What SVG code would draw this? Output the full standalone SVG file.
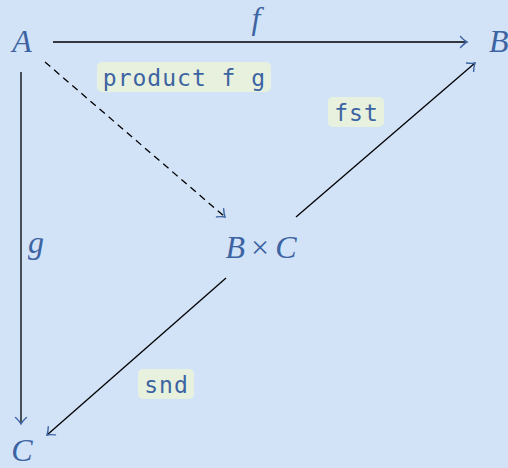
<svg xmlns="http://www.w3.org/2000/svg" width="508" height="468" viewBox="0 0 508 468">
<style>
.math{font-family:"Liberation Serif","DejaVu Serif",serif;font-style:italic;font-size:32px;fill:#3d64a2}
.up{font-style:normal}
.lbl{fill:#e7f1de}
.code{font-family:"DejaVu Sans Mono","Liberation Mono",monospace;font-size:23px;letter-spacing:1px;fill:#3d64a2;text-anchor:middle}
.edge{stroke:#000;stroke-width:1.3;fill:none}
</style>
<defs>
<marker id="arr" markerUnits="userSpaceOnUse" markerWidth="16" markerHeight="16" viewBox="-10 -8 12 16" refX="0" refY="0" orient="auto">
<path d="M-6.5,-5.5 Q-2.5,-1.2 0,0 Q-2.5,1.2 -6.5,5.5" fill="none" stroke="#3d64a2" stroke-width="1.4" stroke-linecap="round"/>
</marker>
</defs>
<rect width="508" height="468" fill="#d2e3f8"/>
<g id="connectors">
<line class="edge" x1="53" y1="42" x2="467" y2="42" marker-end="url(#arr)"/>
<line class="edge" x1="21" y1="72" x2="21" y2="424" marker-end="url(#arr)"/>
<line class="edge" x1="45" y1="62" x2="225" y2="217" stroke-dasharray="7,5" marker-end="url(#arr)"/>
<line class="edge" x1="296" y1="217" x2="475" y2="63" marker-end="url(#arr)"/>
<line class="edge" x1="226" y1="278" x2="47" y2="435" marker-end="url(#arr)"/>
</g>
<g id="node-A"><text class="math" x="22" y="52" text-anchor="middle">A</text></g>
<g id="node-B"><text class="math" x="489" y="52">B</text></g>
<g id="node-C"><text class="math" x="22" y="461" text-anchor="middle">C</text></g>
<g id="node-BxC"><text class="math" x="261" y="258" text-anchor="middle">B<tspan class="up" dx="6">×</tspan><tspan dx="6">C</tspan></text></g>
<g id="label-f"><text class="math" x="256" y="29" text-anchor="middle" font-size="30">f</text></g>
<g id="label-g"><text class="math" x="36" y="253" text-anchor="middle">g</text></g>
<g id="label-product">
<rect class="lbl" x="97" y="62" width="174" height="30" rx="5"/>
<text class="code" x="184.5" y="86">product f g</text>
</g>
<g id="label-fst">
<rect class="lbl" x="328" y="97" width="56" height="30" rx="5"/>
<text class="code" x="356.5" y="121">fst</text>
</g>
<g id="label-snd">
<rect class="lbl" x="138" y="369" width="56" height="30" rx="5"/>
<text class="code" x="166.5" y="393">snd</text>
</g>
</svg>
